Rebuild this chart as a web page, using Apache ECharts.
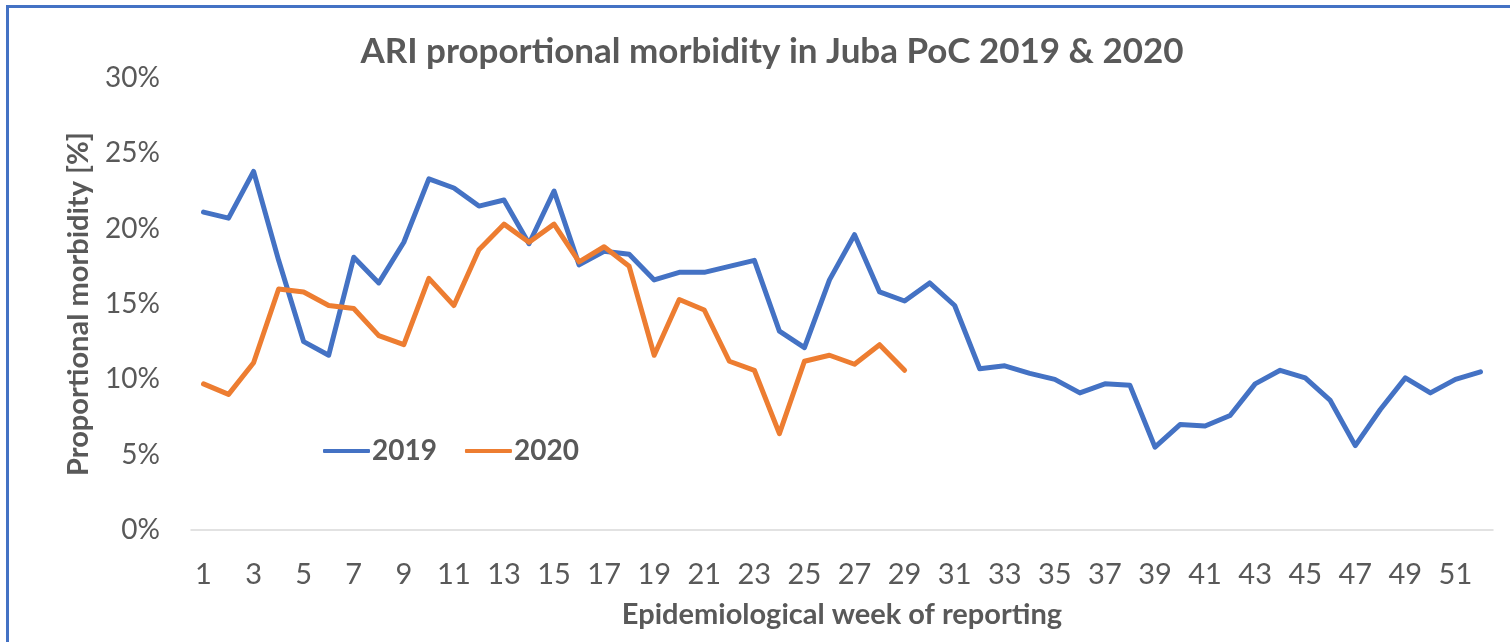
<!DOCTYPE html>
<html>
<head>
<meta charset="utf-8">
<script src="https://cdn.jsdelivr.net/npm/echarts@6/dist/echarts.min.js"></script>
<style>
  html, body { margin: 0; padding: 0; background: #fff; }
  #chart { width: 1510px; height: 642px; }
  .frame {
    position: absolute; left: 6px; top: 5px; width: 1520px; height: 660px;
    border-top: 3px solid #4472c4; border-left: 3px solid #4472c4;
    pointer-events: none;
  }
</style>
</head>
<body>
<div id="chart"></div>
<div class="frame"></div>
<script>
const weeks = [];
for (let i = 1; i <= 52; i++) weeks.push(String(i));

// proportional morbidity, percent
const ari2019 = [21.1, 20.7, 23.8, 17.9, 12.5, 11.6, 18.1, 16.4, 19.1, 23.3,
  22.7, 21.5, 21.9, 19.0, 22.5, 17.6, 18.5, 18.3, 16.6, 17.1,
  17.1, 17.5, 17.9, 13.2, 12.1, 16.6, 19.6, 15.8, 15.2, 16.4,
  14.9, 10.7, 10.9, 10.4, 10.0, 9.1, 9.7, 9.6, 5.5, 7.0,
  6.9, 7.6, 9.7, 10.6, 10.1, 8.6, 5.6, 8.0, 10.1, 9.1,
  10.0, 10.5];
const ari2020 = [9.7, 9.0, 11.1, 16.0, 15.8, 14.9, 14.7, 12.9, 12.3, 16.7,
  14.9, 18.6, 20.3, 19.1, 20.3, 17.8, 18.8, 17.5, 11.6, 15.3,
  14.6, 11.2, 10.6, 6.4, 11.2, 11.6, 11.0, 12.3, 10.6];

const font = "'Lato', sans-serif";
const grey = '#595959';

const chart = echarts.init(document.getElementById('chart'));
chart.setOption({
  backgroundColor: '#fff',
  animation: false,
  textStyle: { fontFamily: font },
  title: {
    text: 'ARI proportional morbidity in Juba PoC 2019 & 2020',
    left: 767,
    top: 29,
    textAlign: 'center',
    textStyle: { fontFamily: font, fontSize: 35, fontWeight: 'bold', color: grey }
  },
  legend: {
    left: 318,
    top: 432,
    itemWidth: 47,
    itemHeight: 4,
    itemGap: 28,
    icon: 'roundRect',
    textStyle: { fontFamily: font, fontSize: 28, fontWeight: 'bold', color: grey, padding: [0, 0, 0, -3] },
    data: ['2019', '2020']
  },
  grid: { left: 191, right: 17, top: 78, bottom: 112 },
  xAxis: {
    type: 'category',
    data: weeks,
    boundaryGap: true,
    name: 'Epidemiological week of reporting',
    nameLocation: 'middle',
    nameGap: 70,
    nameTextStyle: { fontFamily: font, fontSize: 29, fontWeight: 'bold', color: grey },
    axisLine: { lineStyle: { color: '#d9d9d9', width: 1.5 } },
    axisTick: { show: false },
    axisLabel: { interval: 1, margin: 30, fontSize: 29, color: grey, fontFamily: font },
    splitLine: { show: false }
  },
  yAxis: {
    type: 'value',
    min: 0,
    max: 30,
    interval: 5,
    name: 'Proportional morbidity [%]',
    nameLocation: 'middle',
    nameGap: 98,
    nameTextStyle: { fontFamily: font, fontSize: 29, fontWeight: 'bold', color: grey },
    axisLine: { show: false },
    axisTick: { show: false },
    axisLabel: { formatter: '{value}%', margin: 31, fontSize: 28, color: grey, fontFamily: font },
    splitLine: { show: false }
  },
  series: [
    {
      name: '2019',
      type: 'line',
      data: ari2019,
      symbol: 'none',
      lineStyle: { color: '#4472c4', width: 5, join: 'round', cap: 'round' },
      itemStyle: { color: '#4472c4' }
    },
    {
      name: '2020',
      type: 'line',
      data: ari2020,
      symbol: 'none',
      lineStyle: { color: '#ed7d31', width: 5, join: 'round', cap: 'round' },
      itemStyle: { color: '#ed7d31' }
    }
  ]
});
</script>
</body>
</html>
